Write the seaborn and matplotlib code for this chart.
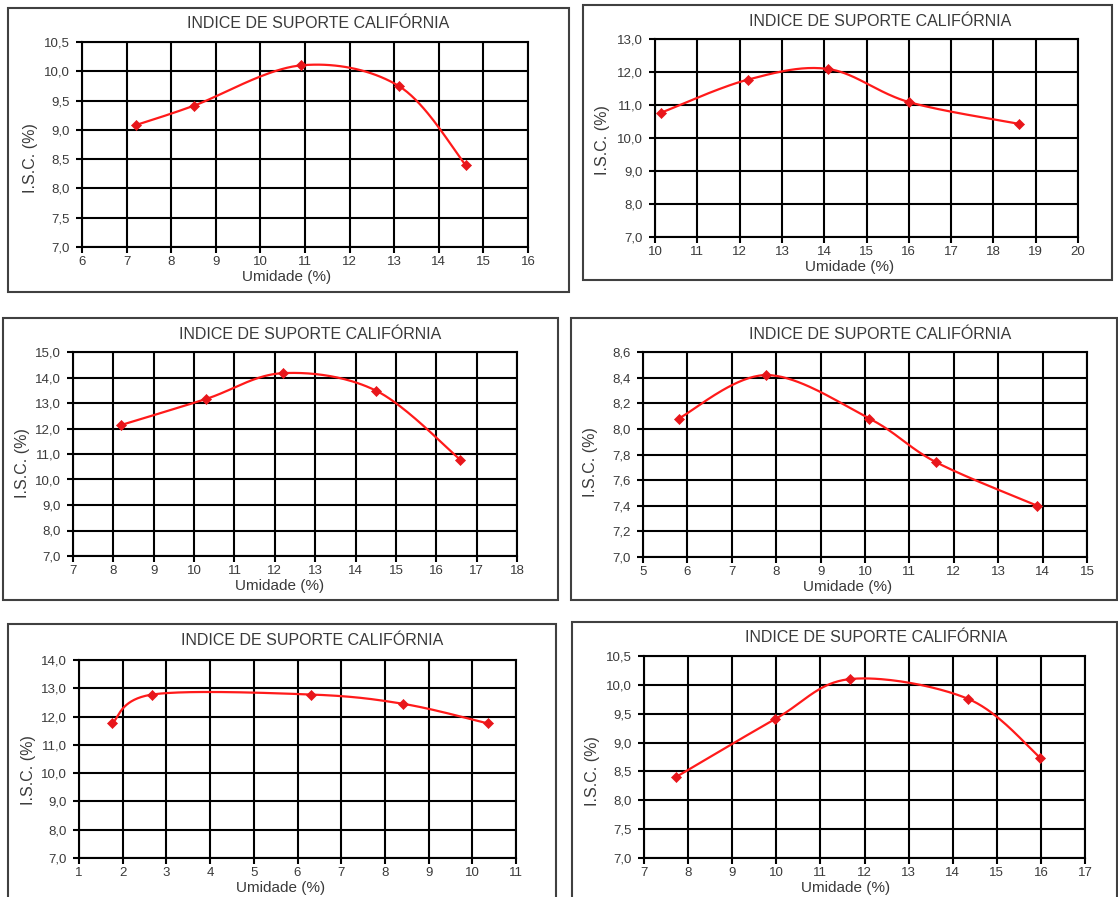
import numpy as np
import matplotlib
matplotlib.use("Agg")
import matplotlib.pyplot as plt
import seaborn as sns
from matplotlib.patches import Rectangle
from matplotlib.ticker import FuncFormatter

# ---------------- data ----------------
title = "INDICE DE SUPORTE CALIFÓRNIA"
xlabel = "Umidade (%)"
ylabel = "I.S.C. (%)"

umid1 = [7.2, 8.5, 10.9, 13.1, 14.6]
isc1 = [9.08, 9.41, 10.10, 9.75, 8.40]
xt1 = list(range(6, 17))
yt1 = [7.0, 7.5, 8.0, 8.5, 9.0, 9.5, 10.0, 10.5]

umid2 = [10.15, 12.2, 14.1, 16.0, 18.6]
isc2 = [10.77, 11.77, 12.09, 11.09, 10.43]
xt2 = list(range(10, 21))
yt2 = [7.0, 8.0, 9.0, 10.0, 11.0, 12.0, 13.0]

umid3 = [8.2, 10.3, 12.2, 14.5, 16.6]
isc3 = [12.14, 13.16, 14.17, 13.49, 10.77]
xt3 = list(range(7, 19))
yt3 = [7.0, 8.0, 9.0, 10.0, 11.0, 12.0, 13.0, 14.0, 15.0]

umid4 = [5.8, 7.78, 10.1, 11.6, 13.88]
isc4 = [8.08, 8.42, 8.08, 7.74, 7.40]
xt4 = list(range(5, 16))
yt4 = [7.0, 7.2, 7.4, 7.6, 7.8, 8.0, 8.2, 8.4, 8.6]

umid5 = [1.76, 2.68, 6.3, 8.42, 10.35]
isc5 = [11.76, 12.78, 12.78, 12.45, 11.76]
xt5 = list(range(1, 12))
yt5 = [7.0, 8.0, 9.0, 10.0, 11.0, 12.0, 13.0, 14.0]

umid6 = [7.72, 9.98, 11.67, 14.34, 15.98]
isc6 = [8.40, 9.41, 10.10, 9.76, 8.74]
xt6 = list(range(7, 18))
yt6 = [7.0, 7.5, 8.0, 8.5, 9.0, 9.5, 10.0, 10.5]

panels = [
    (umid1, isc1, xt1, yt1),
    (umid2, isc2, xt2, yt2),
    (umid3, isc3, xt3, yt3),
    (umid4, isc4, xt4, yt4),
    (umid5, isc5, xt5, yt5),
    (umid6, isc6, xt6, yt6),
]

# ---------------- layout (pixels) ----------------
W, H = 1118, 897
# plot area: left, top, right, bottom
plot_px = [
    (82, 42, 528, 247),
    (655, 39, 1078, 237),
    (73, 352, 517, 556),
    (643, 352, 1087, 557),
    (79, 660, 516, 858),
    (644, 656, 1085, 858),
]
# chart box: left, top, right, bottom
box_px = [
    (8, 8, 569, 292),
    (583, 5, 1112, 280),
    (3, 318, 558, 600),
    (571, 318, 1117, 600),
    (8, 624, 556, 905),
    (572, 622, 1117, 905),
]
title_px = [(318, 24), (880, 21), (310, 334), (880, 334), (312, 640), (876, 637)]
xlab_px = [(287, 277), (850, 267), (280, 586), (848, 587), (281, 888), (846, 888)]
ylab_px = [(30, 158), (603, 140), (22, 463), (590, 462), (28, 770), (592, 771)]

sns.set_style("white")
plt.rcParams["font.family"] = ["Liberation Sans", "DejaVu Sans"]

TXT = "#3a3a3a"


def smooth(xs, ys, n=40):
    pts = np.column_stack([xs, ys]).astype(float)
    out = []
    m = len(pts)
    for i in range(m - 1):
        p0 = pts[max(i - 1, 0)]
        p1 = pts[i]
        p2 = pts[i + 1]
        p3 = pts[min(i + 2, m - 1)]
        c1 = p1 + (p2 - p0) / 6.0
        c2 = p2 - (p3 - p1) / 6.0
        t = np.linspace(0, 1, n)[:, None]
        seg = (1 - t) ** 3 * p1 + 3 * (1 - t) ** 2 * t * c1 + 3 * (1 - t) * t ** 2 * c2 + t ** 3 * p2
        out.append(seg if i == 0 else seg[1:])
    return np.vstack(out)


def yfmt(v, pos):
    return f"{v:.1f}".replace(".", ",")


fig = plt.figure(figsize=(W / 100, H / 100), dpi=100)
fig.patch.set_facecolor("white")

for k, (xs, ys, xt, yt) in enumerate(panels):
    l, t, r, b = plot_px[k]
    ax = fig.add_axes([l / W, 1 - b / H, (r - l) / W, (b - t) / H])
    curve = smooth(xs, ys)
    sns.lineplot(x=curve[:, 0], y=curve[:, 1], sort=False, estimator=None,
                 ax=ax, color="#ff1a1a", lw=1.6, zorder=3)
    sns.scatterplot(x=xs, y=ys, ax=ax, marker="D", s=26, color="#e8161b",
                    edgecolor="#e8161b", linewidth=0.5, zorder=4)
    ax.set_xlim(xt[0], xt[-1])
    ax.set_ylim(yt[0], yt[-1])
    ax.set_xticks(xt)
    ax.set_yticks(yt)
    ax.yaxis.set_major_formatter(FuncFormatter(yfmt))
    ax.grid(True, color="black", lw=1.5)
    ax.set_axisbelow(True)
    for sp in ax.spines.values():
        sp.set_visible(True)
        sp.set_color("black")
        sp.set_linewidth(1.5)
    ax.tick_params(axis="both", which="major", direction="out", length=4, width=1.5,
                   color="black", labelsize=9.5, labelcolor=TXT)
    ax.tick_params(axis="x", pad=2.5)
    ax.tick_params(axis="y", pad=5)
    ax.tick_params(axis="both", bottom=True, left=True, top=False, right=False)
    ax.set_xlabel("")
    ax.set_ylabel("")

    # box
    bl, bt, br, bb = box_px[k]
    fig.patches.append(Rectangle((bl / W, 1 - bb / H), (br - bl) / W, (bb - bt) / H,
                                 transform=fig.transFigure, fill=False,
                                 edgecolor="#404040", lw=1.5))
    tx, ty = title_px[k]
    fig.text(tx / W, 1 - ty / H, title, ha="center", va="center", fontsize=11.5, color=TXT)
    lx, ly = xlab_px[k]
    fig.text(lx / W, 1 - ly / H, xlabel, ha="center", va="center", fontsize=11, color=TXT)
    yx, yy = ylab_px[k]
    fig.text(yx / W, 1 - yy / H, ylabel, ha="center", va="center", fontsize=11.5,
             color=TXT, rotation=90)

fig.savefig("out.png", dpi=100, facecolor="white")
